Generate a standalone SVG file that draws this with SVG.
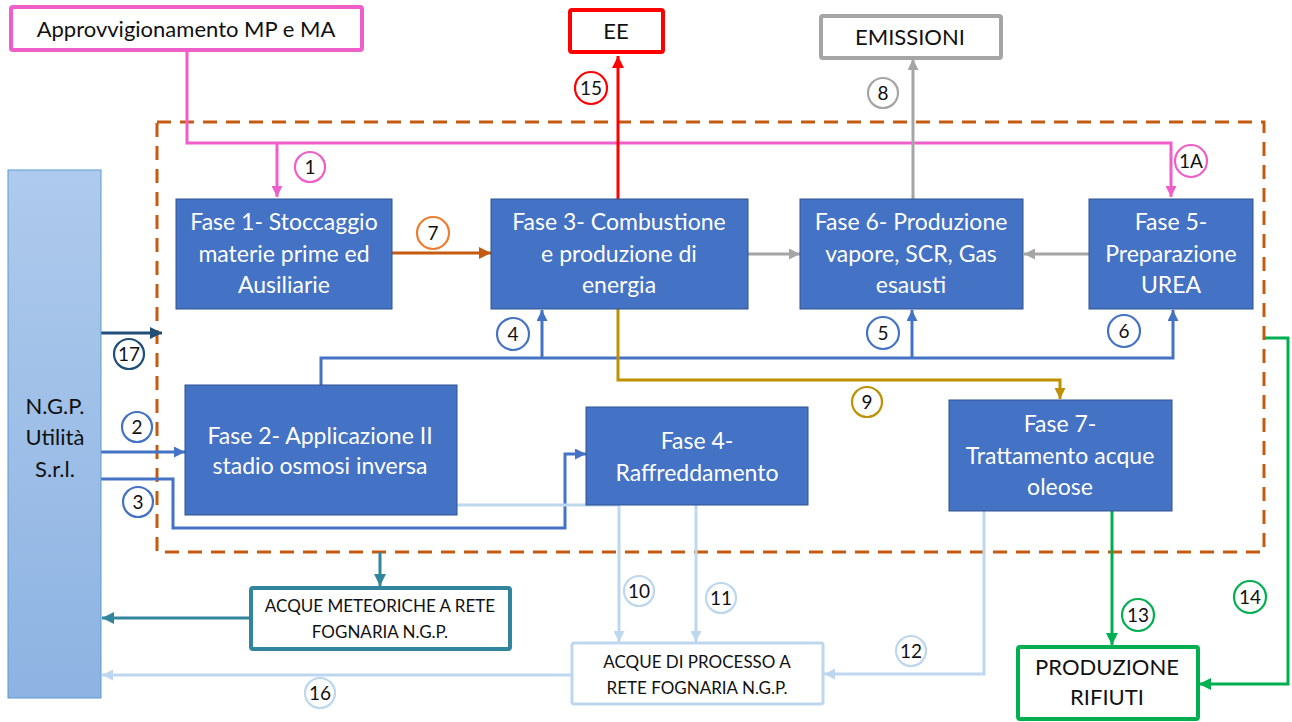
<svg xmlns="http://www.w3.org/2000/svg" width="1292" height="722" viewBox="0 0 1292 722">
<style>
.phase{fill:#4472C4;stroke:#2F528F;stroke-width:1}
.pt{font-family:Lato,"Open Sans","Liberation Sans",sans-serif;font-size:23px;fill:#ffffff;text-anchor:middle}
.bt{font-family:Lato,"Open Sans","Liberation Sans",sans-serif;font-size:22px;fill:#111111;text-anchor:middle}
.st{font-family:Lato,"Liberation Sans",sans-serif;font-size:17px;fill:#111111;text-anchor:middle}
.lt{font-family:Lato,"Open Sans","Liberation Sans",sans-serif;font-size:19px;fill:#111111;text-anchor:middle}
.lc{fill:#ffffff;stroke-width:2.2}
.ln{fill:none;stroke-width:3}
</style>
<defs>
<linearGradient id="ngp" x1="0" y1="0" x2="0" y2="1">
<stop offset="0" stop-color="#AECAEC"/>
<stop offset="1" stop-color="#8DB3E2"/>
</linearGradient>
<marker id="aPink" viewBox="0 0 10 10" refX="10" refY="5" markerWidth="11" markerHeight="11" markerUnits="userSpaceOnUse" orient="auto"><path d="M0,0 L10,5 L0,10 z" fill="#EF5FCA"/></marker>
<marker id="aRed" viewBox="0 0 10 10" refX="10" refY="5" markerWidth="12" markerHeight="12" markerUnits="userSpaceOnUse" orient="auto"><path d="M0,0 L10,5 L0,10 z" fill="#FF0000"/></marker>
<marker id="aGray" viewBox="0 0 10 10" refX="10" refY="5" markerWidth="11" markerHeight="11" markerUnits="userSpaceOnUse" orient="auto"><path d="M0,0 L10,5 L0,10 z" fill="#A5A5A5"/></marker>
<marker id="aOrange" viewBox="0 0 10 10" refX="10" refY="5" markerWidth="12" markerHeight="12" markerUnits="userSpaceOnUse" orient="auto"><path d="M0,0 L10,5 L0,10 z" fill="#C55A11"/></marker>
<marker id="aBlue" viewBox="0 0 10 10" refX="10" refY="5" markerWidth="11" markerHeight="11" markerUnits="userSpaceOnUse" orient="auto"><path d="M0,0 L10,5 L0,10 z" fill="#4472C4"/></marker>
<marker id="aNavy" viewBox="0 0 10 10" refX="10" refY="5" markerWidth="12" markerHeight="12" markerUnits="userSpaceOnUse" orient="auto"><path d="M0,0 L10,5 L0,10 z" fill="#1F4E79"/></marker>
<marker id="aGold" viewBox="0 0 10 10" refX="10" refY="5" markerWidth="11" markerHeight="11" markerUnits="userSpaceOnUse" orient="auto"><path d="M0,0 L10,5 L0,10 z" fill="#BF9000"/></marker>
<marker id="aLight" viewBox="0 0 10 10" refX="10" refY="5" markerWidth="11" markerHeight="11" markerUnits="userSpaceOnUse" orient="auto"><path d="M0,0 L10,5 L0,10 z" fill="#BDD7EE"/></marker>
<marker id="aGreen" viewBox="0 0 10 10" refX="10" refY="5" markerWidth="12" markerHeight="12" markerUnits="userSpaceOnUse" orient="auto"><path d="M0,0 L10,5 L0,10 z" fill="#00B050"/></marker>
<marker id="aTeal" viewBox="0 0 10 10" refX="10" refY="5" markerWidth="12" markerHeight="12" markerUnits="userSpaceOnUse" orient="auto"><path d="M0,0 L10,5 L0,10 z" fill="#31859C"/></marker>
</defs>
<rect width="1292" height="722" fill="#ffffff"/>

<g id="boundary">
<rect x="157" y="122" width="1107" height="430" fill="none" stroke="#C55A11" stroke-width="3" stroke-dasharray="14 9"/>
</g>

<g id="connectors">
<path class="ln" stroke="#EF5FCA" d="M187,50 V143 H1171 V197" marker-end="url(#aPink)"/>
<path class="ln" stroke="#EF5FCA" d="M277,143 V197" marker-end="url(#aPink)"/>
<path class="ln" stroke="#FF0000" stroke-width="4" d="M618,199 V56" marker-end="url(#aRed)"/>
<path class="ln" stroke="#A5A5A5" d="M913,199 V59" marker-end="url(#aGray)"/>
<path class="ln" stroke="#A5A5A5" d="M748,254 H800" marker-end="url(#aGray)"/>
<path class="ln" stroke="#A5A5A5" d="M1089,254 H1024" marker-end="url(#aGray)"/>
<path class="ln" stroke="#C55A11" d="M392,253 H491" marker-end="url(#aOrange)"/>
<path class="ln" stroke="#4472C4" d="M321,385 V358 H1173 V310" marker-end="url(#aBlue)"/>
<path class="ln" stroke="#4472C4" d="M542,358 V310" marker-end="url(#aBlue)"/>
<path class="ln" stroke="#4472C4" d="M912,358 V310" marker-end="url(#aBlue)"/>
<path class="ln" stroke="#BF9000" d="M618,309 V380 H1060 V399" marker-end="url(#aGold)"/>
<path class="ln" stroke="#1F4E79" d="M101,333 H162" marker-end="url(#aNavy)"/>
<path class="ln" stroke="#4472C4" d="M101,452 H185" marker-end="url(#aBlue)"/>
<path class="ln" stroke="#4472C4" d="M101,479 H173 V528 H565 V454 H586" marker-end="url(#aBlue)"/>
<path class="ln" stroke="#BDD7EE" d="M457,505 H619 V642" marker-end="url(#aLight)"/>
<path class="ln" stroke="#BDD7EE" d="M696,505 V642" marker-end="url(#aLight)"/>
<path class="ln" stroke="#BDD7EE" d="M984,511 V674 H824" marker-end="url(#aLight)"/>
<path class="ln" stroke="#BDD7EE" d="M572,675 H102" marker-end="url(#aLight)"/>
<path class="ln" stroke="#00B050" d="M1112,510 V645" marker-end="url(#aGreen)"/>
<path class="ln" stroke="#00B050" d="M1265,338 H1288 V684 H1199" marker-end="url(#aGreen)"/>
<path class="ln" stroke="#31859C" stroke-width="3.5" d="M380,552 V586" marker-end="url(#aTeal)"/>
<path class="ln" stroke="#31859C" stroke-width="3.5" d="M250,618 H102" marker-end="url(#aTeal)"/>

<g id="labels">
<circle class="lc" cx="310" cy="167" r="15" stroke="#EF5FCA"/><text class="lt" x="310" y="174">1</text>
<circle class="lc" cx="1191" cy="161" r="16" stroke="#EF5FCA"/><text class="lt" x="1191" y="167.5" font-size="17">1A</text>
<circle class="lc" cx="591" cy="88" r="16" stroke="#FF0000"/><text class="lt" x="591" y="95">15</text>
<circle class="lc" cx="883" cy="93" r="15" stroke="#A5A5A5"/><text class="lt" x="883" y="100">8</text>
<circle class="lc" cx="433" cy="233" r="16" stroke="#ED7D31"/><text class="lt" x="433" y="240">7</text>
<circle class="lc" cx="513" cy="334" r="16" stroke="#4472C4"/><text class="lt" x="513" y="341">4</text>
<circle class="lc" cx="883" cy="333" r="16" stroke="#4472C4"/><text class="lt" x="883" y="340">5</text>
<circle class="lc" cx="1124" cy="331" r="16" stroke="#4472C4"/><text class="lt" x="1124" y="338">6</text>
<circle class="lc" cx="867" cy="402" r="15" stroke="#BF9000"/><text class="lt" x="867" y="409">9</text>
<circle class="lc" cx="129" cy="354" r="15" stroke="#1F4E79"/><text class="lt" x="129" y="361">17</text>
<circle class="lc" cx="137" cy="427" r="15" stroke="#4472C4"/><text class="lt" x="137" y="434">2</text>
<circle class="lc" cx="138" cy="502" r="15" stroke="#4472C4"/><text class="lt" x="138" y="509">3</text>
<circle class="lc" cx="639" cy="591" r="15" stroke="#BDD7EE"/><text class="lt" x="639" y="598">10</text>
<circle class="lc" cx="721" cy="598" r="15" stroke="#BDD7EE"/><text class="lt" x="721" y="605">11</text>
<circle class="lc" cx="911" cy="651" r="15" stroke="#BDD7EE"/><text class="lt" x="911" y="658">12</text>
<circle class="lc" cx="320" cy="693" r="15" stroke="#BDD7EE"/><text class="lt" x="320" y="700">16</text>
<circle class="lc" cx="1138" cy="615" r="16" stroke="#00B050"/><text class="lt" x="1138" y="622">13</text>
<circle class="lc" cx="1250" cy="597" r="16" stroke="#00B050"/><text class="lt" x="1250" y="604">14</text>
</g>
</g>

<g id="approvvigionamento">
<rect x="11" y="7" width="351" height="43" rx="2" fill="#ffffff" stroke="#EF5FCA" stroke-width="4"/>
<text class="bt" x="186" y="37" font-size="24">Approvvigionamento MP e MA</text>
</g>
<g id="ee">
<rect x="570" y="10" width="93" height="42" rx="2" fill="#ffffff" stroke="#FF0000" stroke-width="4"/>
<text class="bt" x="616" y="39">EE</text>
</g>
<g id="emissioni">
<rect x="821" y="16" width="180" height="42" rx="2" fill="#ffffff" stroke="#A5A5A5" stroke-width="4"/>
<text class="bt" x="910" y="45">EMISSIONI</text>
</g>
<g id="ngp">
<rect x="8" y="170" width="93" height="528" fill="url(#ngp)" stroke="#5B9BD5" stroke-width="1"/>
<text class="bt" x="55" y="414" font-size="23">N.G.P.</text>
<text class="bt" x="55" y="445" font-size="23">Utilità</text>
<text class="bt" x="55" y="477" font-size="23">S.r.l.</text>
</g>
<g id="fase1">
<rect class="phase" x="176" y="199" width="216" height="110"/>
<text class="pt" x="284" y="230">Fase 1- Stoccaggio</text>
<text class="pt" x="284" y="262">materie prime ed</text>
<text class="pt" x="284" y="293">Ausiliarie</text>
</g>
<g id="fase3">
<rect class="phase" x="491" y="199" width="257" height="110"/>
<text class="pt" x="619" y="230">Fase 3- Combustione</text>
<text class="pt" x="619" y="262">e produzione di</text>
<text class="pt" x="619" y="293">energia</text>
</g>
<g id="fase6">
<rect class="phase" x="800" y="199" width="223" height="110"/>
<text class="pt" x="911" y="230">Fase 6- Produzione</text>
<text class="pt" x="911" y="262">vapore, SCR, Gas</text>
<text class="pt" x="911" y="293">esausti</text>
</g>
<g id="fase5">
<rect class="phase" x="1089" y="199" width="164" height="110"/>
<text class="pt" x="1171" y="230">Fase 5-</text>
<text class="pt" x="1171" y="262">Preparazione</text>
<text class="pt" x="1171" y="293">UREA</text>
</g>
<g id="fase2">
<rect class="phase" x="185" y="385" width="272" height="130"/>
<text class="pt" x="320" y="444">Fase 2- Applicazione II</text>
<text class="pt" x="320" y="474">stadio osmosi inversa</text>
</g>
<g id="fase4">
<rect class="phase" x="586" y="407" width="222" height="98"/>
<text class="pt" x="697" y="449">Fase 4-</text>
<text class="pt" x="697" y="481">Raffreddamento</text>
</g>
<g id="fase7">
<rect class="phase" x="949" y="400" width="223" height="111"/>
<text class="pt" x="1060" y="432">Fase 7-</text>
<text class="pt" x="1060" y="464">Trattamento acque</text>
<text class="pt" x="1060" y="495">oleose</text>
</g>
<g id="acque-meteoriche">
<rect x="251" y="588" width="259" height="61" rx="2" fill="#ffffff" stroke="#31859C" stroke-width="4"/>
<text class="st" x="380" y="612">ACQUE METEORICHE A RETE</text>
<text class="st" x="380" y="638">FOGNARIA  N.G.P.</text>
</g>
<g id="acque-processo">
<rect x="572" y="643" width="251" height="61" rx="2" fill="#ffffff" stroke="#BDD7EE" stroke-width="3"/>
<text class="st" x="697" y="668">ACQUE DI PROCESSO A</text>
<text class="st" x="697" y="694">RETE FOGNARIA  N.G.P.</text>
</g>
<g id="produzione-rifiuti">
<rect x="1018" y="647" width="180" height="72" rx="2" fill="#ffffff" stroke="#00B050" stroke-width="4"/>
<text class="bt" x="1107" y="675">PRODUZIONE</text>
<text class="bt" x="1107" y="705">RIFIUTI</text>
</g>
</svg>
